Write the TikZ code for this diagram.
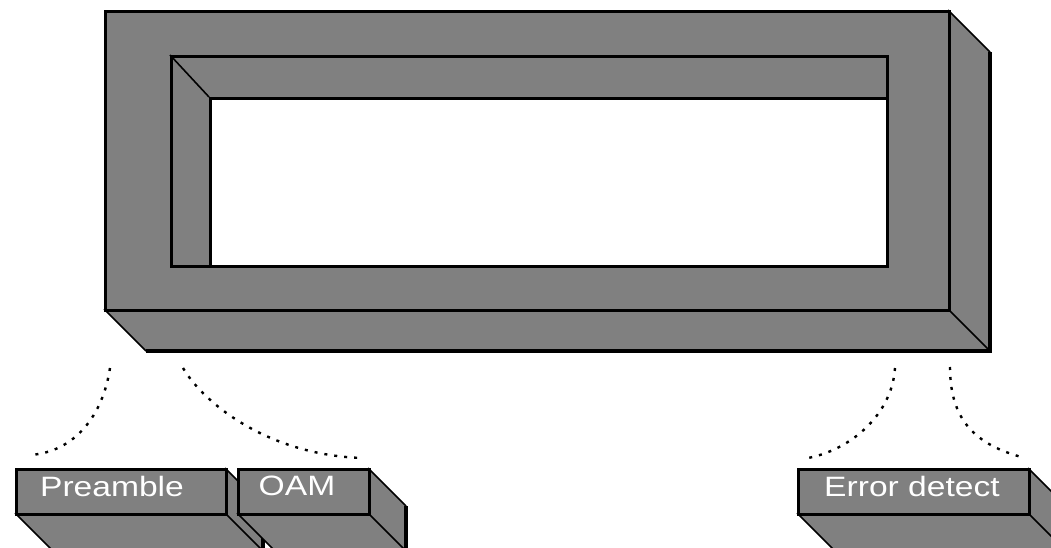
\documentclass[tikz,border=0pt]{standalone}
\usepackage{fontspec}
\setmainfont{Liberation Sans}
\usetikzlibrary{calc}
\definecolor{boxgray}{RGB}{128,128,128}
\begin{document}
\begin{tikzpicture}[x=1pt,y=-1pt,
  rim/.style={draw=black, line width=1.6pt},
  heavy/.style={draw=black, line width=3.4pt},
  blockface/.style={rectangle, fill=boxgray, draw=black, line width=3.4pt,
    anchor=north west, inner sep=0pt},
  tag/.style={text=white, font=\fontsize{28}{30}\selectfont, inner sep=0pt},
  dots/.style={draw=black, line width=2.4pt, dash pattern=on 3pt off 7pt}]
\useasboundingbox (0,0) rectangle (1051,548);
\clip (0,0) rectangle (1051,548);

% ---- large frame: side and bottom faces, then the front with its window
\fill[boxgray] (948,10) -- (990,52) -- (990,351) -- (146,351) -- (104,309) -- cycle;
\draw[rim] (948,10) -- (990,52);
\draw[heavy] (990,52) -- (990,351) -- (146,351);
\draw[rim] (104,309) -- (146,351);
\draw[rim] (948,309) -- (990,351);
\node[blockface, minimum width=844pt, minimum height=299pt] (frame) at (104,10) {};
\node[blockface, minimum width=716pt, minimum height=210pt] (hole) at (170,55) {};
\node[blockface, fill=white, minimum width=677pt, minimum height=168pt] (win) at (209,97) {};
\draw[rim] (hole.north west) -- (win.north west);

% ---- Preamble block
\fill[boxgray] (225,468) -- (263,506) -- (263,551) -- (53,551) -- (15,513) -- (225,513) -- cycle;
\draw[rim] (225,468) -- (263,506);
\draw[heavy] (263,506) -- (263,551);
\draw[rim] (15,513) -- (53,551);
\draw[rim] (225,513) -- (263,551);
\node[blockface, minimum width=210pt, minimum height=45pt] (pre) at (15,468) {};
\node[tag] (preT) at (112,486) {\scalebox{1.2}[1]{Preamble}};

% ---- OAM block
\fill[boxgray] (368,468) -- (406,506) -- (406,551) -- (275,551) -- (237,513) -- (368,513) -- cycle;
\draw[rim] (368,468) -- (406,506);
\draw[heavy] (406,506) -- (406,551);
\draw[rim] (237,513) -- (275,551);
\draw[rim] (368,513) -- (406,551);
\node[blockface, minimum width=131pt, minimum height=45pt] (oam) at (237,468) {};
\node[tag] (oamT) at (297,486) {\scalebox{1.2}[1]{OAM}};

% ---- Error detect block
\fill[boxgray] (1028,468) -- (1066,506) -- (1066,551) -- (835,551) -- (797,513) -- (1028,513) -- cycle;
\draw[rim] (1028,468) -- (1066,506);
\draw[rim] (797,513) -- (835,551);
\draw[rim] (1028,513) -- (1066,551);
\node[blockface, minimum width=231pt, minimum height=45pt] (err) at (797,468) {};
\node[tag] (errT) at (912,486) {\scalebox{1.2}[1]{Error detect}};

% ---- dotted leaders from the frame down to the blocks
\coordinate (l1) at (110,368);  \coordinate (l2) at (30,455);
\coordinate (r1) at (183,368);  \coordinate (r2) at (362,458);
\coordinate (e1) at (895,368);  \coordinate (e2) at (808,458);
\coordinate (f1) at (950,367);  \coordinate (f2) at (1025,458);
\draw[dots] (l1) .. controls (103,415) and (75,452) .. (l2);
\draw[dots] (r1) .. controls (205,405) and (270,455) .. (r2);
\draw[dots] (e1) .. controls (892,415) and (850,450) .. (e2);
\draw[dots] (f1) .. controls (950,420) and (975,445) .. (f2);
\end{tikzpicture}
\end{document}
